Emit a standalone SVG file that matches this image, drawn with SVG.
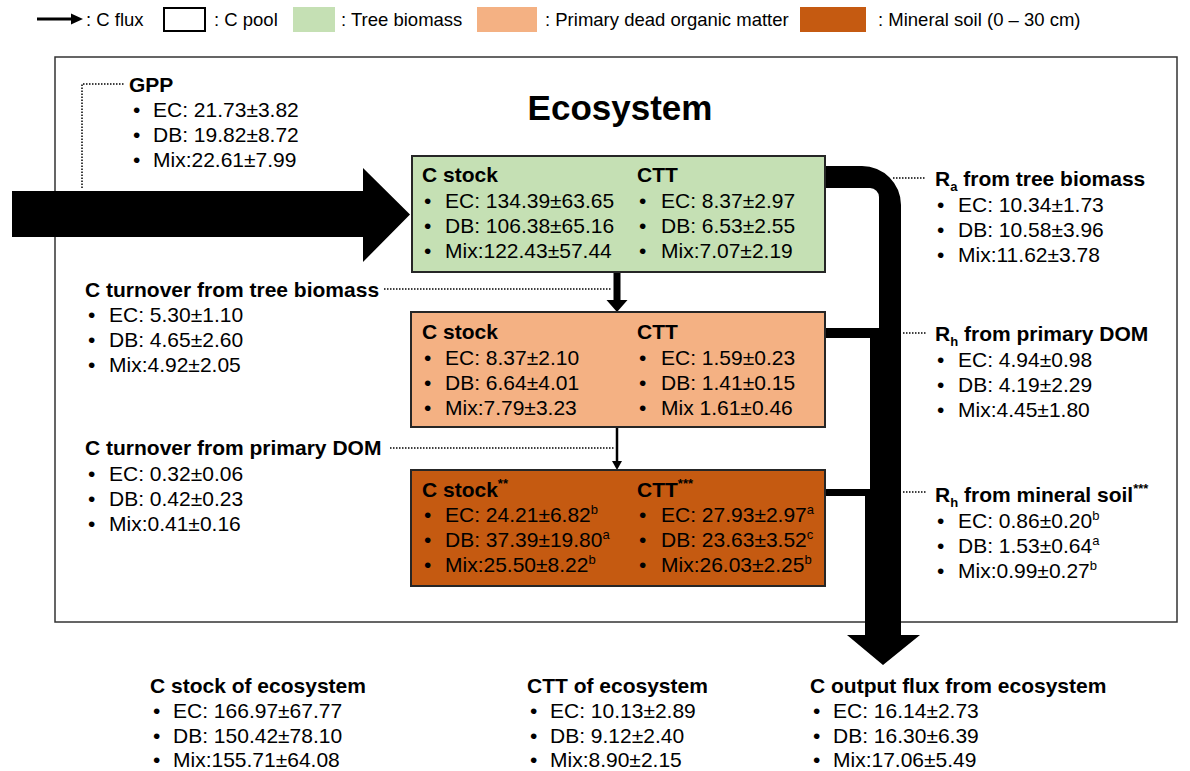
<svg xmlns="http://www.w3.org/2000/svg" width="1190" height="771" viewBox="0 0 1190 771">
<style>
text{font-family:"Liberation Sans",Arial,sans-serif;fill:#000}
.lg{font-size:18.5px}
.t{font-size:21px}
.b{font-size:21px;font-weight:bold}
.sup{font-size:13px}
.box{stroke:#262626;stroke-width:2}
.dot{fill:none;stroke:#000;stroke-width:1.5;stroke-dasharray:1.5 1.5}
</style>
<rect width="1190" height="771" fill="#fff"/>
<g id="legend">
<line x1="37" y1="19" x2="73" y2="19" stroke="#000" stroke-width="3"/>
<polygon points="71,13.5 83,19 71,24.5" fill="#000"/>
<text class="lg" x="86" y="26">: C flux</text>
<rect x="164" y="8" width="41" height="23" fill="#fff" stroke="#000" stroke-width="2"/>
<text class="lg" x="214" y="26">: C pool</text>
<rect x="293" y="7" width="42" height="25" fill="#c5e0b4"/>
<text class="lg" x="341" y="26">: Tree biomass</text>
<rect x="477" y="7" width="60" height="25" fill="#f4b183"/>
<text class="lg" x="545" y="26">: Primary dead organic matter</text>
<rect x="800" y="7" width="66" height="25" fill="#c55a11"/>
<text class="lg" x="878" y="26">: Mineral soil (0 – 30 cm)</text>
</g>
<g id="ecosystem">
<rect x="55" y="57" width="1122" height="565" fill="#fff" stroke="#333" stroke-width="1.5"/>
<text x="620" y="120" text-anchor="middle" style="font-size:35px;font-weight:bold">Ecosystem</text>
</g>
<g id="connectors">
<path d="M12,191 H363 V168 L410,214.5 L363,262 V237 H12 Z" fill="#000"/>
<path d="M826,166 H862 A39,39 0 0 1 901,205 V635 H920 L883,665 L847,635 H865 V496 H826 V489 H870 V338 H826 V328 H879 V197 A9,9 0 0 0 870,188 H826 Z" fill="#000"/>
<rect x="613.5" y="272" width="7" height="30" fill="#000"/>
<polygon points="606.5,300 627.5,300 617,312" fill="#000"/>
<line x1="617" y1="427" x2="617" y2="463" stroke="#000" stroke-width="2.5"/>
<polygon points="612,461 622,461 617,470" fill="#000"/>
<path class="dot" d="M82,188 V84 H125"/>
<path class="dot" d="M384,289 H612"/>
<path class="dot" d="M390,448 H614"/>
<path class="dot" d="M893,178 H926"/>
<path class="dot" d="M903,333 H926"/>
<path class="dot" d="M903,492 H926"/>
</g>
<g id="gpp">
<text class="b" x="129" y="92">GPP</text>
<text class="t" x="133" y="117">•<tspan x="153">EC: 21.73±3.82</tspan></text>
<text class="t" x="133" y="142">•<tspan x="153">DB: 19.82±8.72</tspan></text>
<text class="t" x="133" y="167">•<tspan x="153">Mix:22.61±7.99</tspan></text>
</g>
<g id="tree-biomass">
<rect class="box" x="412" y="156" width="413" height="116" fill="#c5e0b4"/>
<text class="b" x="422" y="182">C stock</text>
<text class="t" x="424" y="208">•<tspan x="445">EC: 134.39±63.65</tspan></text>
<text class="t" x="424" y="233">•<tspan x="445">DB: 106.38±65.16</tspan></text>
<text class="t" x="424" y="258">•<tspan x="445">Mix:122.43±57.44</tspan></text>
<text class="b" x="637" y="182">CTT</text>
<text class="t" x="639" y="208">•<tspan x="661">EC: 8.37±2.97</tspan></text>
<text class="t" x="639" y="233">•<tspan x="661">DB: 6.53±2.55</tspan></text>
<text class="t" x="639" y="258">•<tspan x="661">Mix:7.07±2.19</tspan></text>
</g>
<g id="primary-dom">
<rect class="box" x="411" y="312" width="414" height="115" fill="#f4b183"/>
<text class="b" x="422" y="339">C stock</text>
<text class="t" x="424" y="365">•<tspan x="445">EC: 8.37±2.10</tspan></text>
<text class="t" x="424" y="390">•<tspan x="445">DB: 6.64±4.01</tspan></text>
<text class="t" x="424" y="415">•<tspan x="445">Mix:7.79±3.23</tspan></text>
<text class="b" x="637" y="339">CTT</text>
<text class="t" x="639" y="365">•<tspan x="661">EC: 1.59±0.23</tspan></text>
<text class="t" x="639" y="390">•<tspan x="661">DB: 1.41±0.15</tspan></text>
<text class="t" x="639" y="415">•<tspan x="661">Mix 1.61±0.46</tspan></text>
</g>
<g id="mineral-soil">
<rect class="box" x="411" y="470" width="414" height="116" fill="#c55a11"/>
<text class="b" x="422" y="497">C stock<tspan class="sup" dy="-9">**</tspan></text>
<text class="t" x="424" y="522">•<tspan x="445">EC: 24.21±6.82</tspan><tspan class="sup" dy="-8">b</tspan></text>
<text class="t" x="424" y="547">•<tspan x="445">DB: 37.39±19.80</tspan><tspan class="sup" dy="-8">a</tspan></text>
<text class="t" x="424" y="572">•<tspan x="445">Mix:25.50±8.22</tspan><tspan class="sup" dy="-8">b</tspan></text>
<text class="b" x="637" y="497">CTT<tspan class="sup" dy="-9">***</tspan></text>
<text class="t" x="639" y="522">•<tspan x="661">EC: 27.93±2.97</tspan><tspan class="sup" dy="-8">a</tspan></text>
<text class="t" x="639" y="547">•<tspan x="661">DB: 23.63±3.52</tspan><tspan class="sup" dy="-8">c</tspan></text>
<text class="t" x="639" y="572">•<tspan x="661">Mix:26.03±2.25</tspan><tspan class="sup" dy="-8">b</tspan></text>
</g>
<g id="turnover-tree">
<text class="b" x="85" y="297">C turnover from tree biomass</text>
<text class="t" x="88" y="322">•<tspan x="109">EC: 5.30±1.10</tspan></text>
<text class="t" x="88" y="347">•<tspan x="109">DB: 4.65±2.60</tspan></text>
<text class="t" x="88" y="372">•<tspan x="109">Mix:4.92±2.05</tspan></text>
</g>
<g id="turnover-dom">
<text class="b" x="85" y="455">C turnover from primary DOM</text>
<text class="t" x="88" y="481">•<tspan x="109">EC: 0.32±0.06</tspan></text>
<text class="t" x="88" y="506">•<tspan x="109">DB: 0.42±0.23</tspan></text>
<text class="t" x="88" y="531">•<tspan x="109">Mix:0.41±0.16</tspan></text>
</g>
<g id="ra-tree">
<text class="b" x="935" y="186">R<tspan class="sup" dy="5">a</tspan><tspan dy="-5"> from tree biomass</tspan></text>
<text class="t" x="937" y="212">•<tspan x="958">EC: 10.34±1.73</tspan></text>
<text class="t" x="937" y="237">•<tspan x="958">DB: 10.58±3.96</tspan></text>
<text class="t" x="937" y="262">•<tspan x="958">Mix:11.62±3.78</tspan></text>
</g>
<g id="rh-dom">
<text class="b" x="935" y="341">R<tspan class="sup" dy="5">h</tspan><tspan dy="-5"> from primary DOM</tspan></text>
<text class="t" x="937" y="367">•<tspan x="958">EC: 4.94±0.98</tspan></text>
<text class="t" x="937" y="392">•<tspan x="958">DB: 4.19±2.29</tspan></text>
<text class="t" x="937" y="417">•<tspan x="958">Mix:4.45±1.80</tspan></text>
</g>
<g id="rh-soil">
<text class="b" x="935" y="502">R<tspan class="sup" dy="5">h</tspan><tspan dy="-5"> from mineral soil</tspan><tspan class="sup" dy="-9">***</tspan></text>
<text class="t" x="937" y="528">•<tspan x="958">EC: 0.86±0.20</tspan><tspan class="sup" dy="-8">b</tspan></text>
<text class="t" x="937" y="553">•<tspan x="958">DB: 1.53±0.64</tspan><tspan class="sup" dy="-8">a</tspan></text>
<text class="t" x="937" y="578">•<tspan x="958">Mix:0.99±0.27</tspan><tspan class="sup" dy="-8">b</tspan></text>
</g>
<g id="stock-ecosystem">
<text class="b" x="150" y="693">C stock of ecosystem</text>
<text class="t" x="153" y="718">•<tspan x="173">EC: 166.97±67.77</tspan></text>
<text class="t" x="153" y="743">•<tspan x="173">DB: 150.42±78.10</tspan></text>
<text class="t" x="153" y="767">•<tspan x="173">Mix:155.71±64.08</tspan></text>
</g>
<g id="ctt-ecosystem">
<text class="b" x="527" y="693">CTT of ecosystem</text>
<text class="t" x="530" y="718">•<tspan x="550">EC: 10.13±2.89</tspan></text>
<text class="t" x="530" y="743">•<tspan x="550">DB: 9.12±2.40</tspan></text>
<text class="t" x="530" y="767">•<tspan x="550">Mix:8.90±2.15</tspan></text>
</g>
<g id="output-ecosystem">
<text class="b" x="810" y="693">C output flux from ecosystem</text>
<text class="t" x="813" y="718">•<tspan x="833">EC: 16.14±2.73</tspan></text>
<text class="t" x="813" y="743">•<tspan x="833">DB: 16.30±6.39</tspan></text>
<text class="t" x="813" y="767">•<tspan x="833">Mix:17.06±5.49</tspan></text>
</g>
</svg>
